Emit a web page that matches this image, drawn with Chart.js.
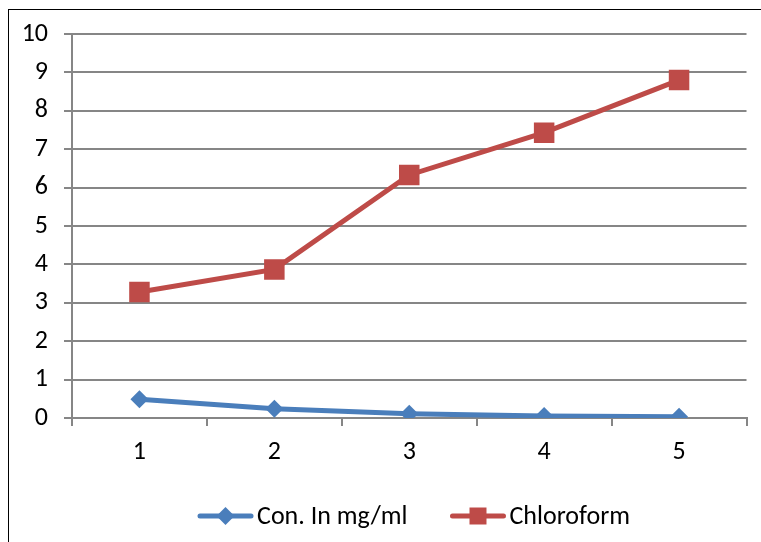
<!DOCTYPE html>
<html>
<head>
<meta charset="utf-8">
<script src="https://cdn.jsdelivr.net/npm/chart.js@4/dist/chart.umd.min.js"></script>
<style>
    html, body { margin: 0; padding: 0; background: #fff; }
    .wrap { position: relative; width: 761px; height: 542px; overflow: hidden; }
    .frame { position: absolute; left: 8px; top: 9px; width: 900px; height: 700px; border: 1.5px solid #000; }
    canvas { position: absolute; left: 0; top: 0; }
</style>
</head>
<body>
<div class="wrap">
    <div class="frame"></div>
    <canvas id="chart" width="761" height="542"></canvas>
</div>
<script>
// --- Données ---
const categories = ['1', '2', '3', '4', '5'];
const conValues = [0.49, 0.24, 0.11, 0.05, 0.03];
const chloroformValues = [3.28, 3.87, 6.33, 7.43, 8.8];
const seriesNames = ['Con. In mg/ml', 'Chloroform'];

const BLUE = '#4a7ebb';
const RED = '#be4b48';
const GRID = '#868686';
const FONT = "Carlito, Lato, 'Noto Sans', sans-serif";
const FONT_SIZE = 26;

// Trait + marqueur façon Excel (utilisé par la légende)
function drawIcon(ctx, x, y, color, shape) {
    ctx.save();
    ctx.strokeStyle = color;
    ctx.lineWidth = 5;
    ctx.lineCap = 'round';
    ctx.beginPath();
    ctx.moveTo(x + 3, y);
    ctx.lineTo(x + 54, y);
    ctx.stroke();
    ctx.fillStyle = color;
    ctx.beginPath();
    if (shape === 'rectRot') {
        ctx.moveTo(x + 28.5, y - 9);
        ctx.lineTo(x + 37.5, y);
        ctx.lineTo(x + 28.5, y + 9);
        ctx.lineTo(x + 19.5, y);
        ctx.closePath();
    } else {
        ctx.rect(x + 20, y - 8.5, 17, 17);
    }
    ctx.fill();
    ctx.restore();
}

// Légende dessinée à la main : centrée autour de x=413, y=516 comme dans l'original
const excelLegend = {
    id: 'excelLegend',
    afterDraw(chart) {
        const ctx = chart.ctx;
        const sets = chart.data.datasets;
        const iconW = 57, textGap = 3, itemGap = 42;
        ctx.save();
        ctx.font = FONT_SIZE + 'px ' + FONT;
        ctx.textBaseline = 'middle';
        ctx.fillStyle = '#000';
        const widths = sets.map(ds => ctx.measureText(ds.label).width);
        let total = 0;
        widths.forEach((w, i) => { total += iconW + textGap + w + (i ? itemGap : 0); });
        let x = 413.5 - total / 2;
        const y = 516;
        sets.forEach((ds, i) => {
            drawIcon(ctx, x, y, ds.borderColor, ds.pointStyle);
            x += iconW + textGap;
            ctx.fillText(ds.label, x, y + 1);
            x += widths[i] + itemGap;
        });
        ctx.restore();
    }
};

const ctx = document.getElementById('chart').getContext('2d');
new Chart(ctx, {
    type: 'line',
    data: {
        labels: categories,
        datasets: [{
            label: seriesNames[0],
            data: conValues,
            borderColor: BLUE,
            backgroundColor: BLUE,
            borderWidth: 5,
            pointStyle: 'rectRot',
            pointRadius: 9,
            pointBorderWidth: 0,
            pointBackgroundColor: BLUE,
            tension: 0
        }, {
            label: seriesNames[1],
            data: chloroformValues,
            borderColor: RED,
            backgroundColor: RED,
            borderWidth: 5,
            pointStyle: 'rect',
            pointRadius: 14.5,
            pointBorderWidth: 0,
            pointBackgroundColor: RED,
            tension: 0
        }]
    },
    options: {
        responsive: false,
        animation: false,
        layout: { padding: { left: 0, right: 10, top: 34, bottom: 0 } },
        scales: {
            x: {
                offset: true,
                grid: { display: true, drawOnChartArea: false, drawTicks: true, tickLength: 8, color: GRID, lineWidth: 2, offset: true },
                border: { display: true, color: GRID, width: 2 },
                ticks: { color: '#000', font: { family: FONT, size: FONT_SIZE }, padding: 11 },
                afterFit(scale) {
                    scale.height = 124;
                    scale.paddingLeft = 0;
                    scale.paddingRight = 0;
                }
            },
            y: {
                min: 0,
                max: 10,
                ticks: { stepSize: 1, color: '#000', font: { family: FONT, size: FONT_SIZE }, padding: 16 },
                grid: { color: GRID, lineWidth: 2, tickLength: 8 },
                border: { display: true, color: GRID, width: 2 },
                afterFit(scale) {
                    scale.width = 72;
                    scale.paddingTop = 0;
                    scale.paddingBottom = 0;
                }
            }
        },
        plugins: {
            tooltip: { enabled: false },
            legend: { display: false }
        }
    },
    plugins: [excelLegend]
});
</script>
</body>
</html>
